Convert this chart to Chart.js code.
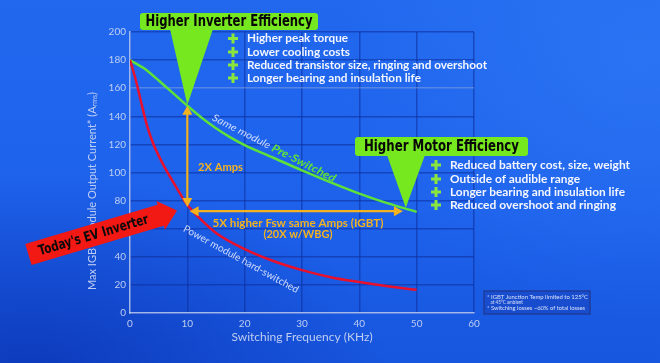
<!DOCTYPE html>
<html>
<head>
<meta charset="utf-8">
<script src="https://cdn.jsdelivr.net/npm/chart.js@4.4.1/dist/chart.umd.min.js"></script>
<style>
  html, body { margin: 0; padding: 0; }
  body {
    width: 660px; height: 363px; overflow: hidden;
    background:
      radial-gradient(ellipse 360px 200px at 30px 370px, rgba(6, 36, 160, 0.55), rgba(6, 36, 160, 0)),
      radial-gradient(ellipse 300px 260px at 640px 60px, rgba(60, 140, 255, 0.35), rgba(60, 140, 255, 0)),
      linear-gradient(180deg, #2168ee 0%, #1e62ec 55%, #1756de 100%);
  }
</style>
</head>
<body>
<canvas id="chart" width="660" height="363"></canvas>
<script>
// ── Data ─────────────────────────────────────────────────────
const hardFreq = [0, 1, 2, 3, 4, 5, 6, 8, 10, 12, 15, 20, 25, 30, 35, 40, 45, 50];
const hardAmps = [180, 166, 149, 133, 121, 112, 104, 90, 77, 68, 57, 45.5, 37, 30.5, 25.5, 22, 19, 16.5];

const preFreq = [0, 2.5, 5, 7.5, 10, 12.5, 15, 17.5, 20, 25, 30, 35, 40, 45, 50];
const preAmps = [180, 174, 165.5, 156.5, 147.5, 139, 131.5, 125, 119.5, 110.5, 101.5, 93, 85, 78, 72];

const xTicks = [0, 10, 20, 30, 40, 50, 60];
const yTicks = [0, 20, 40, 60, 80, 100, 120, 140, 160, 180, 200];

const inverterPoints = ['Higher peak torque', 'Lower cooling costs',
  'Reduced transistor size, ringing and overshoot', 'Longer bearing and insulation life'];
const motorPoints = ['Reduced battery cost, size, weight', 'Outside of audible range',
  'Longer bearing and insulation life', 'Reduced overshoot and ringing'];
const footnotes = ['* IGBT Junction Temp limited to 125°C', '   at 45°C ambient',
  '* Switching losses ~60% of total losses'];

// ── Styling ─────────────────────────────────────────────────
const FONT = "Lato, 'DejaVu Sans', sans-serif";
const HEAVY = "'DejaVu Sans', Lato, sans-serif";
const INK = {
  tick: 'rgba(208, 218, 244, 0.9)',
  grid: 'rgba(14, 48, 160, 0.6)',
  gridLight: 'rgba(150, 170, 220, 0.45)',
  axis: 'rgba(200, 215, 250, 0.8)',
  red: '#e8112d',
  green: '#5ee23a',
  lime: '#76e81f',
  plus: '#8ae63c',
  orange: '#f4b21f',
  arrow: '#f21814',
  white: '#f4f6ff',
};

// ── Text helpers ────────────────────────────────────────────
// draws runs of text squeezed to a target width (the source art is condensed)
function drawRuns(ctx, runs, x, y, width, angle = 0, align = 'left') {
  ctx.save();
  ctx.textBaseline = 'middle';
  ctx.textAlign = 'left';
  let total = 0;
  runs.forEach(r => { ctx.font = r.font; r.w = ctx.measureText(r.text).width; total += r.w; });
  const sx = width / total;
  ctx.translate(x, y);
  ctx.rotate(angle);
  ctx.scale(sx, 1);
  let cx = align === 'center' ? -total / 2 : 0;
  runs.forEach(r => {
    ctx.font = r.font;
    ctx.fillStyle = r.color;
    ctx.fillText(r.text, cx, r.dy || 0);
    cx += r.w;
  });
  ctx.restore();
}

function fitText(ctx, text, x, y, width, font, color, align = 'left', angle = 0) {
  drawRuns(ctx, [{ text, font, color }], x, y, width, angle, align);
}

function plusSign(ctx, cx, cy) {
  ctx.fillStyle = INK.plus;
  ctx.fillRect(cx - 5, cy - 1.5, 10, 3);
  ctx.fillRect(cx - 1.5, cy - 5, 3, 10);
}

function roundRect(ctx, x, y, w, h, r) {
  ctx.beginPath();
  ctx.moveTo(x + r, y);
  ctx.arcTo(x + w, y, x + w, y + h, r);
  ctx.arcTo(x + w, y + h, x, y + h, r);
  ctx.arcTo(x, y + h, x, y, r);
  ctx.arcTo(x, y, x + w, y, r);
  ctx.closePath();
}

function callout(ctx, box, baseL, baseR, tip, text, textW) {
  ctx.fillStyle = INK.lime;
  roundRect(ctx, box.x, box.y, box.w, box.h, 3);
  ctx.fill();
  ctx.beginPath();
  ctx.moveTo(baseL, box.y + box.h - 1);
  ctx.lineTo(baseR, box.y + box.h - 1);
  ctx.lineTo(tip[0], tip[1]);
  ctx.closePath();
  ctx.fill();
  fitText(ctx, text, box.x + box.w / 2, box.y + box.h / 2 + 0.5, textW, `bold 15px ${HEAVY}`, '#080808', 'center');
}

function doubleArrow(ctx, x1, y1, x2, y2) {
  const a = Math.atan2(y2 - y1, x2 - x1);
  const len = Math.hypot(x2 - x1, y2 - y1);
  ctx.save();
  ctx.translate(x1, y1);
  ctx.rotate(a);
  ctx.strokeStyle = INK.orange;
  ctx.fillStyle = INK.orange;
  ctx.lineWidth = 2.2;
  ctx.beginPath();
  ctx.moveTo(6, 0);
  ctx.lineTo(len - 6, 0);
  ctx.stroke();
  [[0, 1], [len, -1]].forEach(([p, d]) => {
    ctx.beginPath();
    ctx.moveTo(p, 0);
    ctx.lineTo(p + d * 9, -5);
    ctx.lineTo(p + d * 9, 5);
    ctx.closePath();
    ctx.fill();
  });
  ctx.restore();
}

function bigArrow(ctx, tipX, tipY, angle) {
  ctx.save();
  ctx.translate(tipX, tipY);
  ctx.rotate(angle);
  ctx.fillStyle = INK.arrow;
  ctx.beginPath();
  ctx.moveTo(0, 0);
  ctx.lineTo(-17, -15);
  ctx.lineTo(-17, -11);
  ctx.lineTo(-155, -11);
  ctx.lineTo(-155, 11);
  ctx.lineTo(-17, 11);
  ctx.lineTo(-17, 15);
  ctx.closePath();
  ctx.fill();
  ctx.restore();
  const d = 87;
  fitText(ctx, "Today's EV Inverter", tipX - d * Math.cos(angle), tipY - d * Math.sin(angle) + 0.5,
    114, `bold 14px ${HEAVY}`, '#0a0a0a', 'center', angle);
}

// ── Annotation plugin ───────────────────────────────────────
const annotations = {
  id: 'annotations',
  afterDraw(chart) {
    const { ctx } = chart;
    const X = v => chart.scales.x.getPixelForValue(v);
    const Y = v => chart.scales.y.getPixelForValue(v);

    // y axis title with subscript
    drawRuns(ctx, [
      { text: 'Max IGBT Module Output Current* (A', font: `11px ${FONT}`, color: INK.tick },
      { text: 'rms', font: `7px ${FONT}`, color: INK.tick, dy: 3 },
      { text: ')', font: `11px ${FONT}`, color: INK.tick },
    ], 92, 191, 198, -Math.PI / 2, 'center');

    // labels along the curves
    drawRuns(ctx, [
      { text: 'Same module ', font: `italic 10px ${FONT}`, color: 'rgba(225,232,255,0.9)' },
      { text: 'Pre-Switched', font: `italic bold 11px ${FONT}`, color: INK.green },
    ], 213, 117, 137, 27 * Math.PI / 180);
    fitText(ctx, 'Power module hard-switched', 184, 228, 130, `10px ${FONT}`,
      'rgba(225,232,255,0.9)', 'left', 28.7 * Math.PI / 180);

    // orange arrows and labels
    doubleArrow(ctx, X(10), Y(147.5), X(10), Y(75.5));
    fitText(ctx, '2X Amps', 198, 167, 45, `bold 12px ${FONT}`, INK.orange);
    doubleArrow(ctx, X(10.4), Y(72.5), X(47.6), Y(72.5));
    fitText(ctx, '5X higher Fsw same Amps (IGBT)', 298, 223, 171, `bold 12px ${FONT}`, INK.orange, 'center');
    fitText(ctx, '(20X w/WBG)', 298, 234.5, 69, `bold 12px ${FONT}`, INK.orange, 'center');

    // callouts
    callout(ctx, { x: 140, y: 13, w: 178, h: 17 }, 170, 213, [X(10), Y(148)], 'Higher Inverter Efficiency', 167);
    callout(ctx, { x: 355, y: 137, w: 173, h: 19 }, 387, 425, [X(48.1), Y(75)], 'Higher Motor Efficiency', 155);

    const w1 = [101, 103, 240, 174];
    const y1 = [38.5, 52, 65, 78];
    inverterPoints.forEach((t, i) => {
      plusSign(ctx, 233, y1[i]);
      fitText(ctx, t, 247, y1[i], w1[i], `bold 12px ${FONT}`, INK.white);
    });
    const w2 = [180, 130, 175, 166];
    const y2 = [165, 179, 192, 205];
    motorPoints.forEach((t, i) => {
      plusSign(ctx, 436, y2[i]);
      fitText(ctx, t, 450, y2[i], w2[i], `bold 12px ${FONT}`, INK.white);
    });

    // red arrow pointing at today's operating point
    bigArrow(ctx, X(8.2), Y(73), -16.5 * Math.PI / 180);

    // footnote box
    ctx.save();
    ctx.fillStyle = 'rgba(24, 66, 190, 0.55)';
    ctx.fillRect(484, 291, 106, 23);
    ctx.strokeStyle = '#1f3c9c';
    ctx.lineWidth = 1.5;
    ctx.strokeRect(484, 291, 106, 23);
    ctx.restore();
    const fw = [101, 36, 98];
    const fy = [297, 302.5, 308];
    footnotes.forEach((t, i) => fitText(ctx, t, 487, fy[i], fw[i], `6px ${FONT}`, 'rgba(235,240,255,0.9)'));
  },
};

// ── Chart ───────────────────────────────────────────────────
const toPoints = (xs, ys) => xs.map((x, i) => ({ x, y: ys[i] }));

new Chart(document.getElementById('chart'), {
  type: 'line',
  data: {
    datasets: [
      {
        label: 'Power module hard-switched',
        data: toPoints(hardFreq, hardAmps),
        borderColor: INK.red, borderWidth: 2.5,
        pointRadius: 0, cubicInterpolationMode: 'monotone',
      },
      {
        label: 'Same module Pre-Switched',
        data: toPoints(preFreq, preAmps),
        borderColor: INK.green, borderWidth: 2.5,
        pointRadius: 0, cubicInterpolationMode: 'monotone',
      },
    ],
  },
  options: {
    responsive: false,
    animation: false,
    devicePixelRatio: 1,
    layout: { padding: { top: 32, right: 186, left: 0, bottom: 0 } },
    plugins: { legend: { display: false }, tooltip: { enabled: false } },
    scales: {
      x: {
        type: 'linear', min: 0, max: 60,
        afterBuildTicks: s => { s.ticks = xTicks.map(value => ({ value })); },
        afterFit: s => { s.height = 50; },
        ticks: { color: INK.tick, font: { family: FONT, size: 10 }, padding: 5, maxRotation: 0 },
        grid: { color: INK.grid, lineWidth: 1.5, drawTicks: false },
        border: { color: INK.axis, width: 1.5 },
        title: {
          display: true, text: 'Switching Frequency (KHz)', color: INK.tick,
          font: { family: FONT, size: 12 }, padding: { top: 0, bottom: 19 },
        },
      },
      y: {
        type: 'linear', min: 0, max: 200,
        afterBuildTicks: s => { s.ticks = yTicks.map(value => ({ value })); },
        afterFit: s => { s.width = 130; },
        ticks: { color: INK.tick, font: { family: FONT, size: 10 }, padding: 4 },
        grid: {
          color: c => (c.tick && c.tick.value === 160 ? INK.gridLight : INK.grid),
          lineWidth: 1.5, drawTicks: false,
        },
        border: { color: INK.axis, width: 1.5 },
      },
    },
  },
  plugins: [annotations],
});
</script>
</body>
</html>
